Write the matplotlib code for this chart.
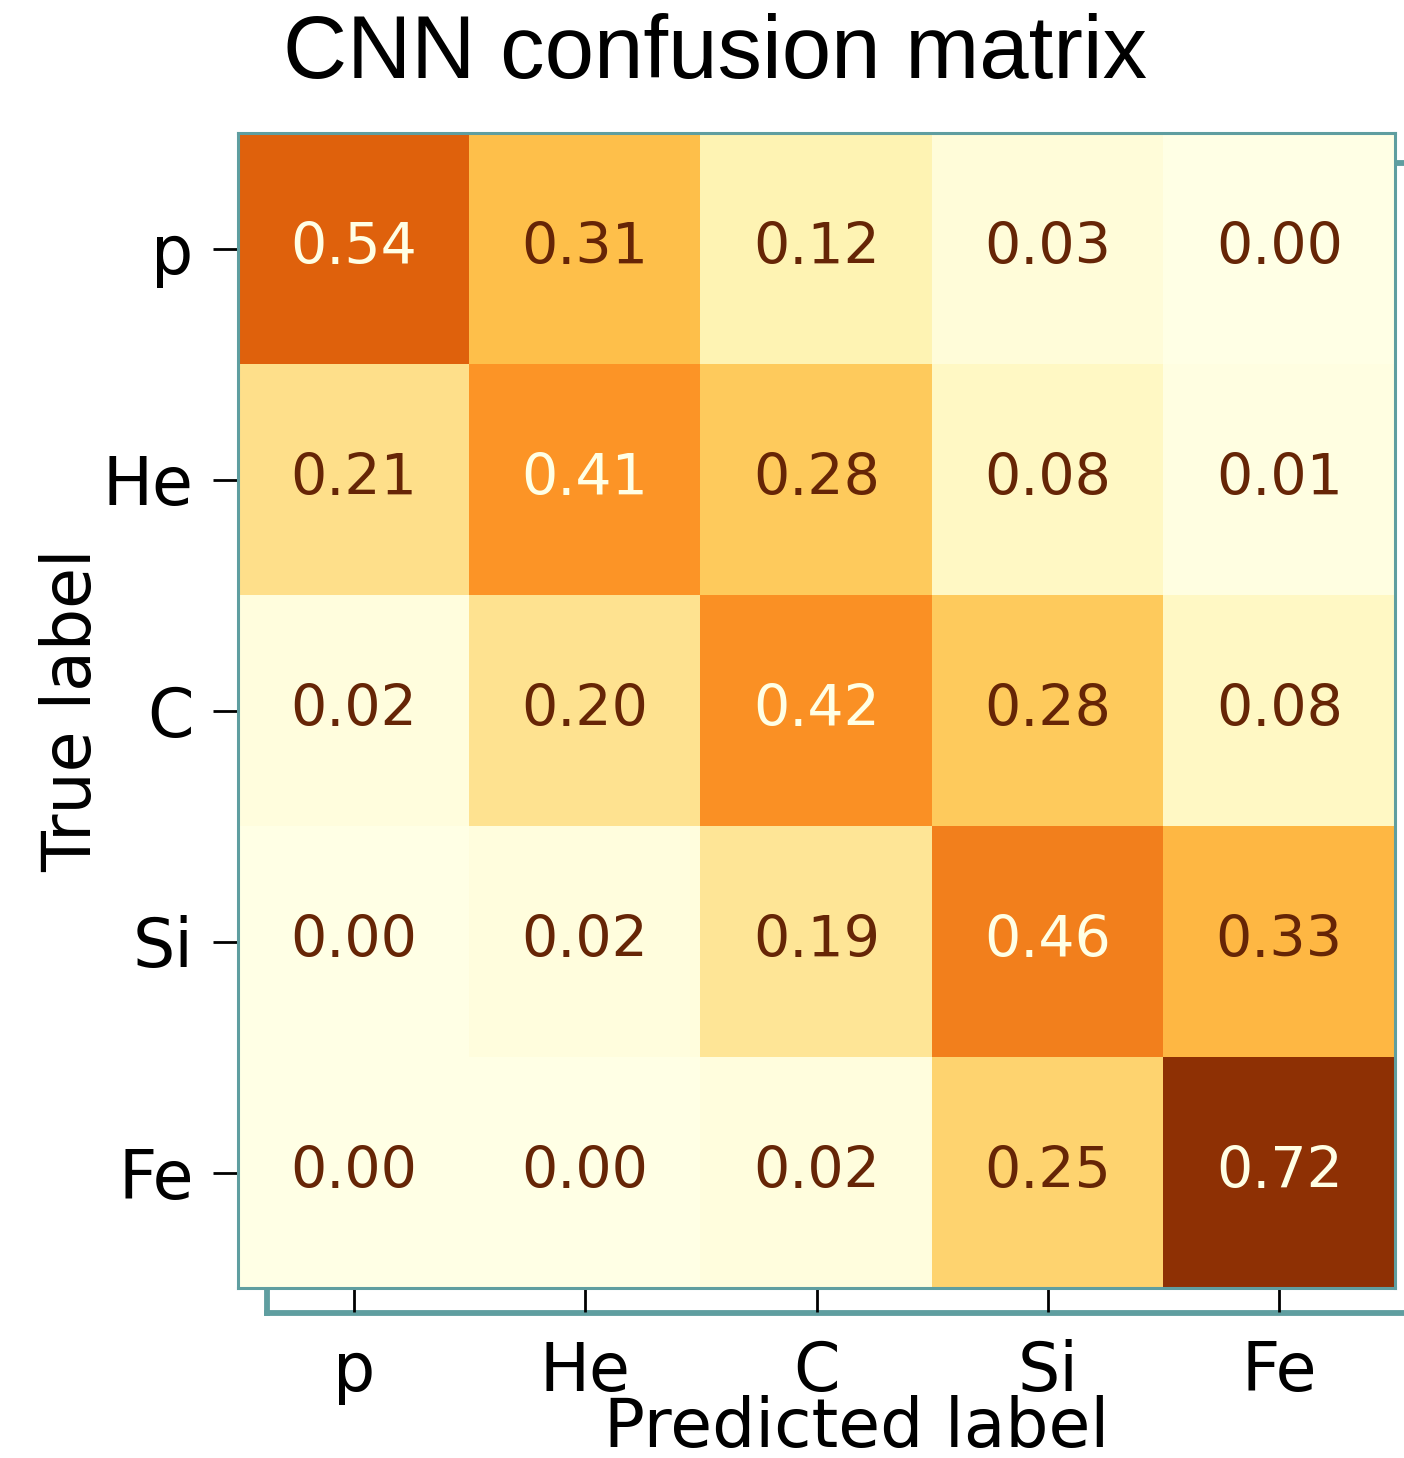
import numpy as np
import matplotlib
matplotlib.use("Agg")
import matplotlib.pyplot as plt

# confusion matrix values (rows = true, cols = predicted)
classes = ["p", "He", "C", "Si", "Fe"]
row_p = [0.54, 0.31, 0.12, 0.03, 0.00]
row_he = [0.21, 0.41, 0.28, 0.08, 0.01]
row_c = [0.02, 0.20, 0.42, 0.28, 0.08]
row_si = [0.00, 0.02, 0.19, 0.46, 0.33]
row_fe = [0.00, 0.00, 0.02, 0.25, 0.72]
cm = np.array([row_p, row_he, row_c, row_si, row_fe])

frame_color = "#5f9ea0"
cmap = plt.get_cmap("YlOrBr")
vmax = 0.8

W, H = 1404, 1458
fig = plt.figure(figsize=(W / 100, H / 100), dpi=100)

def px_rect(x0, y0, x1, y1):
    return [x0 / W, 1 - y1 / H, (x1 - x0) / W, (y1 - y0) / H]

# offset frame behind the image
ax_bg = fig.add_axes(px_rect(267, 163, 1425, 1313))
ax_bg.set_xticks([])
ax_bg.set_yticks([])
ax_bg.patch.set_alpha(0)
for s in ax_bg.spines.values():
    s.set_color(frame_color)
    s.set_linewidth(4.2)

ax = fig.add_axes(px_rect(238, 133, 1395, 1288))
ax.imshow(cm, cmap=cmap, vmin=0, vmax=vmax, aspect="auto", interpolation="nearest")
for s in ax.spines.values():
    s.set_color(frame_color)
    s.set_linewidth(2.2)

for i in range(cm.shape[0]):
    for j in range(cm.shape[1]):
        v = cm[i, j]
        col = cmap(0.0) if v > vmax / 2 else cmap(1.0)
        ax.text(j, i, f"{v:.2f}", ha="center", va="center", fontsize=41, color=col)

ax.set_xticks(range(len(classes)))
ax.set_yticks(range(len(classes)))
ax.set_xticklabels(classes)
ax.set_yticklabels(classes)
ax.tick_params(axis="x", length=17, width=2, pad=20, labelsize=48)
ax.tick_params(axis="y", length=18, width=2, pad=14, labelsize=48)

ax.set_ylabel("True label", fontsize=48)
ax.yaxis.set_label_coords(-0.115, 0.5)
ax.set_xlabel("Predicted label", fontsize=49)
ax.xaxis.set_label_coords(0.535, -0.093)

fig.text(715 / W, 1 - 55 / H, "CNN confusion matrix", ha="center", va="center",
         fontsize=64, family=["Liberation Sans", "DejaVu Sans"])

fig.savefig("out.png", dpi=100)
